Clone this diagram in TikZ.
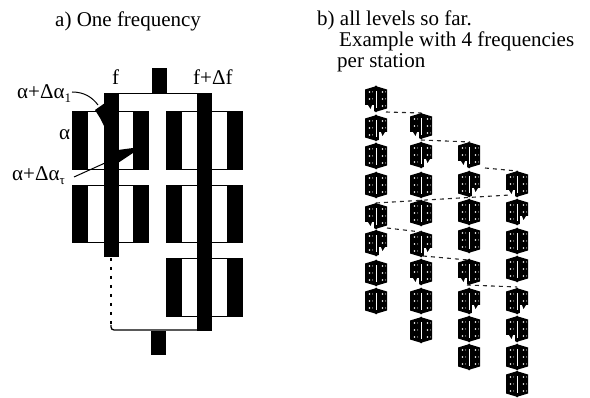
\documentclass[tikz,border=0pt]{standalone}
\usepackage{fontspec}
\setmainfont{Liberation Serif}
\newcommand{\subsc}[1]{\raisebox{-4pt}{\fontsize{13}{13}\selectfont #1}}
\tikzset{
  lbl/.style={font=\fontsize{21}{23}\selectfont,inner sep=0pt,anchor=base west,text=black},
  wire/.style={line width=1.3pt,black},
  leader/.style={line width=1pt,black},
  dotwire/.style={line width=2pt,black,dash pattern=on 3.5pt off 5.5pt},
  smalldash/.style={line width=1.1pt,black!85,dash pattern=on 4pt off 4pt},
  block/.style={fill=black,draw=none},
  pics/hexcell/.style={code={
    \fill[black] (-11,-9.5)--(-1,-12.5)--(0,-13.5)--(1,-12.5)--(11,-9.5)--(11,9.5)--(1,12.5)--(0,13.5)--(-1,12.5)--(-11,9.5)--cycle;
    \draw[white,line width=.9pt] (0,-8)--(0,9);
    \foreach \u in {-6.5,6.5}\foreach \v in {-7,0,7}{\fill[white] (\u,\v) circle (.9pt);\fill[white] (\u+3,\v) circle (.5pt);}
  }},
  pics/cutleft/.style={code={\fill[white] (-12,6)--(-2.5,6)--(-2.5,15)--(-12,15)--cycle;\fill[black] (-8,6)--(-4,6)--(-5.5,10)--cycle;}},
  pics/cutright/.style={code={\fill[white] (12,4)--(3,4)--(3,15)--(12,15)--cycle;\fill[black] (5,4)--(9,4)--(6.5,8)--cycle;}},
}
\begin{document}
\begin{tikzpicture}[x=1pt,y=-1pt]
\useasboundingbox (0,0) rectangle (590,398);
% left figure: box frames
\foreach \bx/\by/\bh in {72/112/58,72/186/57,166/112/58,166/186/57,166/259/58}{
  \draw[line width=1pt] (\bx,\by) rectangle +(76,\bh);
  \fill[block] (\bx,\by) rectangle +(15.5,\bh);
  \fill[block] (\bx+61,\by) rectangle +(15.5,\bh);
}
% stations
\fill[block] (104,93) rectangle (119,257);
\fill[block] (197,93) rectangle (212,331);
\fill[block] (152,68) rectangle (167,93);
\fill[block] (151,331) rectangle (166,355);
% wires
\coordinate (dfb) at (197,330);
\draw[wire] (119,93.5) -- (197,93.5);
\draw[dotwire] (111,258) -- (111,327);
\draw[wire,rounded corners=3pt] (111,325) -- (111,330) -- (dfb);
% wedges
\fill[black] (95,110) -- (105,103) -- (105,128) -- (100,118) -- cycle;
\fill[black] (118,150) -- (133,148) -- (133,153) -- (118,163) -- cycle;
% leaders
\draw[leader] (72,92) .. controls (84,92) and (92,97) .. (98,105);
\draw[leader] (74,177) -- (105,163);
% labels
\node[lbl] at (55,27) {a) One frequency};
\node[lbl] at (112,85) {f};
\node[lbl] at (193,85) {f+Δf};
\node[lbl] at (17,99) {α+Δα\subsc{1}};
\node[lbl] at (59,140) {α};
\node[lbl] at (12,181) {α+Δα\subsc{τ}};
\node[lbl] at (317,26) {b) all levels so far.};
\node[lbl] at (339,47) {Example with 4 frequencies};
\node[lbl] at (337,68) {per station};
% right figure
\foreach \x/\ys in {376/{99,128,156,185,216,243,273,301},421/{126,155,185,213,244,272,301,330},469/{155,184,212,240,272,301,329,357},517/{184,212,241,269,301,329,357,384}}{
  \foreach \y in \ys { \pic at (\x,\y) {hexcell}; }
}
\foreach \x/\y in {376/99,421/126,469/155,517/184,376/216,421/272,469/272,517/329}{\pic at (\x,\y) {cutleft};}
\foreach \x/\y in {376/128,421/155,469/184,517/212,376/243,421/244,469/301,517/301}{\pic at (\x,\y) {cutright};}
\coordinate (a1) at (386,112); \coordinate (a2) at (421,113);
\coordinate (b1) at (421,140); \coordinate (b2) at (470,142);
\coordinate (c1) at (485,168); \coordinate (c2) at (517,171);
\coordinate (d1) at (376,203); \coordinate (d2) at (510,195);
\coordinate (e1) at (387,228); \coordinate (e2) at (421,232);
\coordinate (g1) at (423,256); \coordinate (g2) at (468,260);
\coordinate (h1) at (467,285); \coordinate (h2) at (517,287);
\foreach \p/\q in {a1/a2,b1/b2,c1/c2,d1/d2,e1/e2,g1/g2,h1/h2}{\draw[smalldash] (\p) -- (\q);}
\end{tikzpicture}
\end{document}
